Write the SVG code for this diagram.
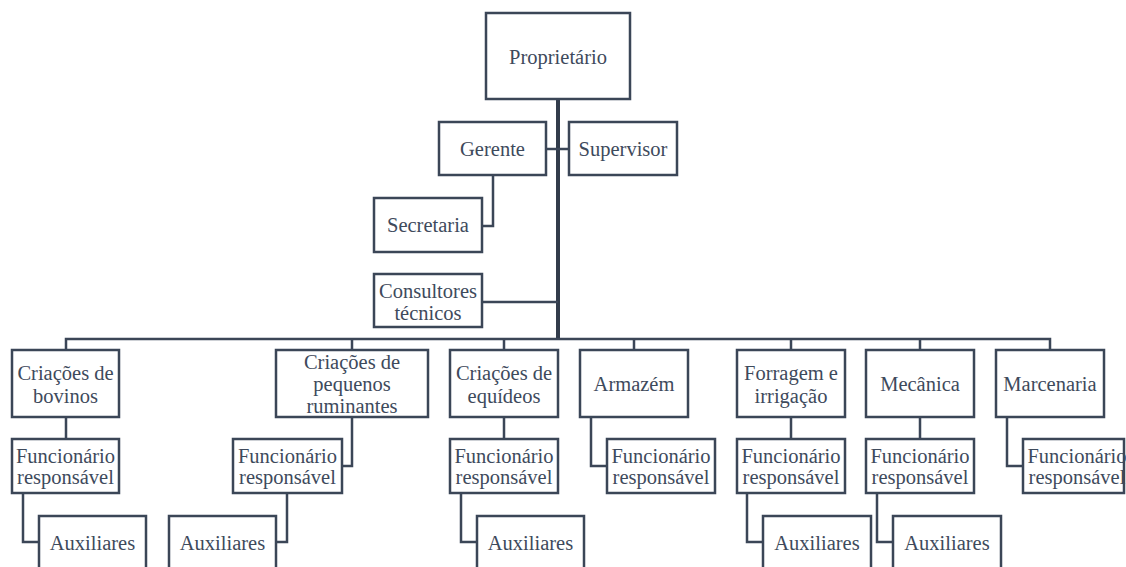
<svg xmlns="http://www.w3.org/2000/svg" width="1126" height="567" viewBox="0 0 1126 567">
<style>
.box{fill:#ffffff;stroke:#3b4657;stroke-width:2.5}
.ln{fill:none;stroke:#3b4657;stroke-width:2.5}
.main{fill:none;stroke:#323c4b;stroke-width:4}
.t{font-family:"Liberation Serif",Tinos,"Times New Roman",Times,"DejaVu Serif",serif;font-size:20.5px;fill:#3e4a5c;text-anchor:middle}
</style>
<rect width="1126" height="567" fill="#ffffff"/>
<g id="connectors">
<path class="main" d="M558,99 V340"/>
<path class="ln" d="M546,149 H569"/>
<path class="ln" d="M493,175 V226 H482"/>
<path class="ln" d="M482,302 H558"/>
<path class="ln" d="M66,350 V339 H1050 V350"/>
<path class="ln" d="M352,339 V350 M504,339 V350 M634,339 V350 M791,339 V350 M920,339 V350"/>
<path class="ln" d="M66,417 V439 M504,417 V439 M791,417 V439 M920,417 V439"/>
<path class="ln" d="M352,417 V466 H342"/>
<path class="ln" d="M591,417 V466 H607"/>
<path class="ln" d="M1007,417 V466 H1023"/>
<path class="ln" d="M23,493 V542 H39"/>
<path class="ln" d="M287,493 V542 H276"/>
<path class="ln" d="M461,493 V542 H477"/>
<path class="ln" d="M747,493 V542 H763"/>
<path class="ln" d="M877,493 V542 H893"/>
</g>
<g id="proprietario"><rect class="box" x="486" y="13" width="144" height="86"/><text class="t" x="558" y="64">Proprietário</text></g>
<g id="gerente"><rect class="box" x="439" y="122" width="107" height="53"/><text class="t" x="492.5" y="156">Gerente</text></g>
<g id="supervisor"><rect class="box" x="569" y="122" width="108" height="53"/><text class="t" x="623" y="156">Supervisor</text></g>
<g id="secretaria"><rect class="box" x="374" y="198" width="108" height="54"/><text class="t" x="428" y="232">Secretaria</text></g>
<g id="consultores"><rect class="box" x="374" y="274" width="108" height="53"/><text class="t" x="428" y="298">Consultores</text><text class="t" x="428" y="320">técnicos</text></g>
<g id="bovinos"><rect class="box" x="12" y="350" width="107" height="67"/><text class="t" x="65.5" y="380">Criações de</text><text class="t" x="65.5" y="403">bovinos</text></g>
<g id="pequenos"><rect class="box" x="276" y="350" width="152" height="67"/><text class="t" x="352" y="369">Criações de</text><text class="t" x="352" y="391">pequenos</text><text class="t" x="352" y="413">ruminantes</text></g>
<g id="equideos"><rect class="box" x="450" y="350" width="108" height="67"/><text class="t" x="504" y="380">Criações de</text><text class="t" x="504" y="403">equídeos</text></g>
<g id="armazem"><rect class="box" x="580" y="350" width="108" height="67"/><text class="t" x="634" y="391">Armazém</text></g>
<g id="forragem"><rect class="box" x="737" y="350" width="108" height="67"/><text class="t" x="791" y="380">Forragem e</text><text class="t" x="791" y="403">irrigação</text></g>
<g id="mecanica"><rect class="box" x="866" y="350" width="108" height="67"/><text class="t" x="920" y="391">Mecânica</text></g>
<g id="marcenaria"><rect class="box" x="996" y="350" width="108" height="67"/><text class="t" x="1050" y="391">Marcenaria</text></g>
<g id="func1"><rect class="box" x="12" y="439" width="107" height="54"/><text class="t" x="65.5" y="463">Funcionário</text><text class="t" x="65.5" y="484">responsável</text></g>
<g id="func2"><rect class="box" x="233" y="439" width="109" height="54"/><text class="t" x="287.5" y="463">Funcionário</text><text class="t" x="287.5" y="484">responsável</text></g>
<g id="func3"><rect class="box" x="450" y="439" width="108" height="54"/><text class="t" x="504" y="463">Funcionário</text><text class="t" x="504" y="484">responsável</text></g>
<g id="func4"><rect class="box" x="607" y="439" width="108" height="54"/><text class="t" x="661" y="463">Funcionário</text><text class="t" x="661" y="484">responsável</text></g>
<g id="func5"><rect class="box" x="737" y="439" width="108" height="54"/><text class="t" x="791" y="463">Funcionário</text><text class="t" x="791" y="484">responsável</text></g>
<g id="func6"><rect class="box" x="866" y="439" width="108" height="54"/><text class="t" x="920" y="463">Funcionário</text><text class="t" x="920" y="484">responsável</text></g>
<g id="func7"><rect class="box" x="1023" y="439" width="101" height="54"/><text class="t" x="1077" y="463">Funcionário</text><text class="t" x="1077" y="484">responsável</text></g>
<g id="aux1"><rect class="box" x="39" y="516" width="107" height="60"/><text class="t" x="92.5" y="550">Auxiliares</text></g>
<g id="aux2"><rect class="box" x="169" y="516" width="107" height="60"/><text class="t" x="222.5" y="550">Auxiliares</text></g>
<g id="aux3"><rect class="box" x="477" y="516" width="107" height="60"/><text class="t" x="530.5" y="550">Auxiliares</text></g>
<g id="aux5"><rect class="box" x="763" y="516" width="108" height="60"/><text class="t" x="817" y="550">Auxiliares</text></g>
<g id="aux6"><rect class="box" x="893" y="516" width="108" height="60"/><text class="t" x="947" y="550">Auxiliares</text></g>
</svg>
